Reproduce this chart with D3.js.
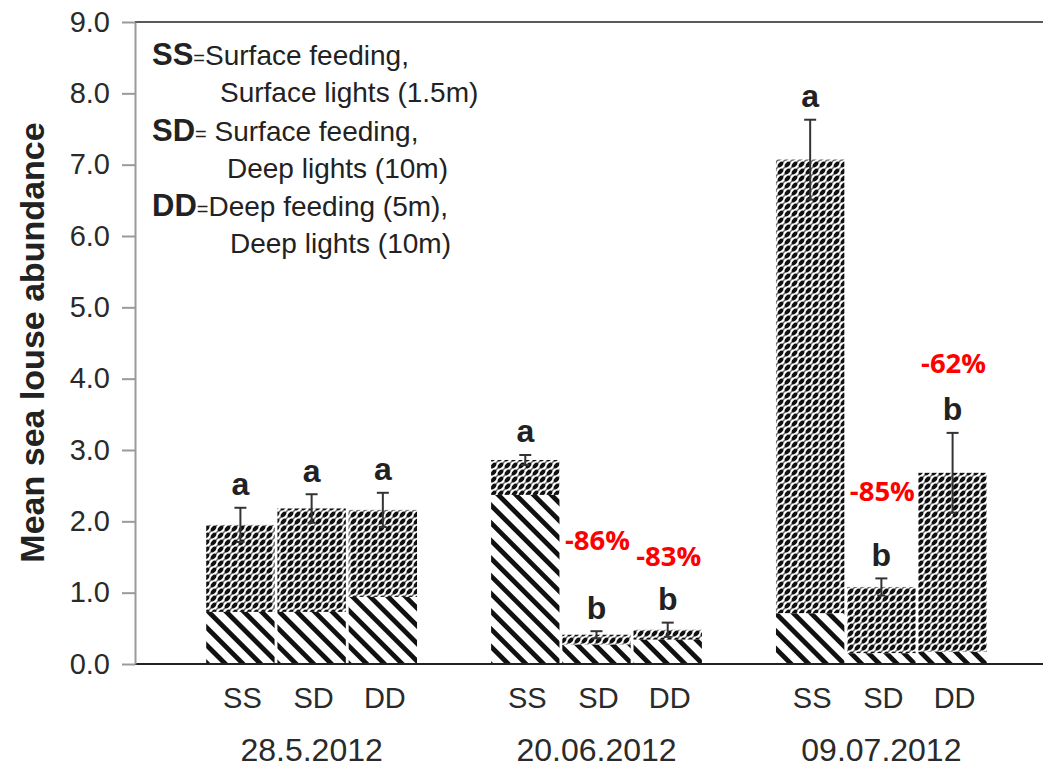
<!DOCTYPE html>
<html>
<head>
<meta charset="utf-8">
<script src="https://cdn.jsdelivr.net/npm/d3@7/dist/d3.min.js"></script>
<style>
  html, body { margin: 0; padding: 0; background: #fff; }
  svg { display: block; }
</style>
</head>
<body>
<svg id="chart" width="1043" height="768"></svg>
<script>
// Sampling dates and treatment groups
const dates = ["28.5.2012", "20.06.2012", "09.07.2012"];
const treatments = ["SS", "SD", "DD"];

// Mean sea louse abundance per bar (total height), one entry per date
const meanSS = [1.95, 2.86, 7.07];
const meanSD = [2.18, 0.41, 1.08];
const meanDD = [2.16, 0.48, 2.68];

// Lower (striped) stage share of each bar
const lowerSS = [0.73, 2.37, 0.71];
const lowerSD = [0.73, 0.27, 0.15];
const lowerDD = [0.94, 0.34, 0.17];

// Standard errors
const seSS = [0.24, 0.07, 0.56];
const seSD = [0.20, 0.05, 0.12];
const seDD = [0.24, 0.10, 0.56];

// Significance letters
const lettersSS = ["a", "a", "a"];
const lettersSD = ["a", "b", "b"];
const lettersDD = ["a", "b", "b"];

// Reduction relative to SS on the same date
const reductionSD = ["", "-86%", "-85%"];
const reductionDD = ["", "-83%", "-62%"];

// Y axis tick values
const yTicks = [0, 1, 2, 3, 4, 5, 6, 7, 8, 9];

// Legend lines
const legendItems = [
  { code: "SS", line1: "Surface feeding,", line2: "Surface lights (1.5m)" },
  { code: "SD", line1: " Surface feeding,", line2: "Deep lights (10m)" },
  { code: "DD", line1: "Deep feeding (5m),", line2: "Deep lights (10m)" }
];

// ---- build rows ----
const byTreatment = {
  SS: { mean: meanSS, lower: lowerSS, se: seSS, letter: lettersSS, red: null },
  SD: { mean: meanSD, lower: lowerSD, se: seSD, letter: lettersSD, red: reductionSD },
  DD: { mean: meanDD, lower: lowerDD, se: seDD, letter: lettersDD, red: reductionDD }
};
const rows = [];
dates.forEach((d, i) => {
  treatments.forEach(t => {
    const s = byTreatment[t];
    rows.push({
      date: d, treat: t, mean: s.mean[i], lower: s.lower[i], se: s.se[i],
      letter: s.letter[i], red: s.red ? s.red[i] : ""
    });
  });
});

const svg = d3.select("#chart");
const FONT = "'Liberation Sans', Arial, Helvetica, sans-serif";

// ---- fill patterns ----
const defs = svg.append("defs");
const stripes = defs.append("pattern")
  .attr("id", "stripes").attr("patternUnits", "userSpaceOnUse")
  .attr("width", 12.5).attr("height", 12.5)
  .attr("patternTransform", "rotate(-45)");
stripes.append("rect").attr("width", 12.5).attr("height", 12.5).attr("fill", "#fff");
stripes.append("rect").attr("x", 0).attr("width", 4.8).attr("height", 12.5).attr("fill", "#111");

const dots = defs.append("pattern")
  .attr("id", "dots").attr("patternUnits", "userSpaceOnUse")
  .attr("width", 7).attr("height", 7);
dots.append("rect").attr("width", 7).attr("height", 7).attr("fill", "#fff");
[[0, 7, 7, 0], [-3.5, 3.5, 3.5, -3.5], [3.5, 10.5, 10.5, 3.5]].forEach(l => {
  dots.append("line").attr("x1", l[0]).attr("y1", l[1]).attr("x2", l[2]).attr("y2", l[3])
    .attr("stroke", "#666").attr("stroke-width", 1.4);
});
dots.append("ellipse").attr("cx", 3.5).attr("cy", 3.5).attr("rx", 3.4).attr("ry", 2.1)
  .attr("transform", "rotate(-45 3.5 3.5)").attr("fill", "#111");

// ---- scales ----
const y = d3.scaleLinear().domain([0, 9]).range([664, 22]);
const x0 = d3.scaleBand().domain(dates).range([135, 1058]).paddingInner(0.26).paddingOuter(0.25);
const x1 = d3.scaleBand().domain(treatments).range([0, x0.bandwidth()]).paddingInner(0.04);
const bx = r => x0(r.date) + x1(r.treat);
const bc = r => bx(r) + x1.bandwidth() / 2;

// ---- top frame line ----
svg.append("line").attr("x1", 135).attr("x2", 1043).attr("y1", y(9)).attr("y2", y(9))
  .attr("stroke", "#222").attr("stroke-width", 1.5);

// ---- bars ----
const bars = svg.append("g");
bars.selectAll("rect.upper").data(rows).join("rect").attr("class", "upper")
  .attr("x", bx).attr("width", x1.bandwidth())
  .attr("y", d => y(d.mean)).attr("height", d => y(d.lower) - y(d.mean))
  .attr("fill", "url(#dots)");
bars.selectAll("rect.lower").data(rows).join("rect").attr("class", "lower")
  .attr("x", bx).attr("width", x1.bandwidth())
  .attr("y", d => y(d.lower)).attr("height", d => y(0) - y(d.lower))
  .attr("fill", "url(#stripes)");

// ---- error bars ----
const err = svg.append("g").attr("stroke", "#333").attr("stroke-width", 2);
rows.forEach(r => {
  const cx = bc(r);
  err.append("line").attr("x1", cx).attr("x2", cx).attr("y1", y(r.mean + r.se)).attr("y2", y(r.mean - r.se));
  err.append("line").attr("x1", cx - 6).attr("x2", cx + 6).attr("y1", y(r.mean + r.se)).attr("y2", y(r.mean + r.se));
  err.append("line").attr("x1", cx - 4).attr("x2", cx + 4).attr("y1", y(r.mean - r.se)).attr("y2", y(r.mean - r.se));
});

// ---- significance letters ----
svg.append("g").selectAll("text").data(rows).join("text")
  .attr("x", bc).attr("y", d => y(d.mean + d.se) - 12.5)
  .attr("text-anchor", "middle")
  .attr("font-family", FONT).attr("font-weight", "bold").attr("font-size", 32)
  .attr("fill", "#222").text(d => d.letter);

// ---- reduction annotations (lifted above the letters) ----
const redLift = { "20.06.2012|SD": 69, "20.06.2012|DD": 44, "09.07.2012|SD": 65, "09.07.2012|DD": 47 };
svg.append("g").selectAll("text").data(rows.filter(r => r.red)).join("text")
  .attr("x", d => bc(d) + 1)
  .attr("y", d => y(d.mean + d.se) - 12.5 - redLift[d.date + "|" + d.treat])
  .attr("text-anchor", "middle")
  .attr("font-family", "'Open Sans', sans-serif").attr("font-weight", "bold").attr("font-size", 27.5)
  .attr("fill", "#ff0000").text(d => d.red);

// ---- baseline ----
svg.append("line").attr("x1", 135).attr("x2", 1043).attr("y1", y(0)).attr("y2", y(0))
  .attr("stroke", "#222").attr("stroke-width", 2);

// ---- y axis ----
const yAxis = svg.append("g").attr("transform", "translate(135,0)")
  .call(d3.axisLeft(y).tickValues(yTicks).tickFormat(d3.format(".1f")).tickSize(13).tickSizeOuter(0).tickPadding(12));
yAxis.select(".domain").attr("stroke", "#9a9a9a").attr("stroke-width", 2);
yAxis.selectAll(".tick line").attr("stroke", "#9a9a9a").attr("stroke-width", 2);
yAxis.selectAll(".tick text").attr("font-family", FONT).attr("font-size", 29).attr("fill", "#2a2a2a");

svg.append("text")
  .attr("transform", `translate(43.5,${(118 + 567) / 2}) rotate(-90)`)
  .attr("text-anchor", "middle")
  .attr("font-family", FONT).attr("font-weight", "bold").attr("font-size", 34)
  .attr("fill", "#222").text("Mean sea louse abundance");

// ---- x labels ----
svg.append("g").selectAll("text").data(rows).join("text")
  .attr("x", d => bc(d) + 2).attr("y", 708)
  .attr("text-anchor", "middle")
  .attr("font-family", FONT).attr("font-size", 29).attr("fill", "#2a2a2a")
  .text(d => d.treat);
svg.append("g").selectAll("text").data(dates).join("text")
  .attr("x", d => x0(d) + x0.bandwidth() / 2).attr("y", 761)
  .attr("text-anchor", "middle")
  .attr("font-family", FONT).attr("font-size", 32).attr("fill", "#2a2a2a")
  .text(d => d);

// ---- legend ----
const lg = svg.append("g").attr("font-family", FONT).attr("fill", "#222");
const line2X = [220, 227, 230];
legendItems.forEach((it, i) => {
  const base = 65 + i * 75.5;
  const t = lg.append("text").attr("x", 152).attr("y", base);
  t.append("tspan").attr("font-weight", "bold").attr("font-size", 31).text(it.code);
  t.append("tspan").attr("font-size", 20).text("=");
  t.append("tspan").attr("font-size", 28).text(it.line1);
  lg.append("text").attr("x", line2X[i]).attr("y", base + 37).attr("font-size", 28).text(it.line2);
});
</script>
</body>
</html>
